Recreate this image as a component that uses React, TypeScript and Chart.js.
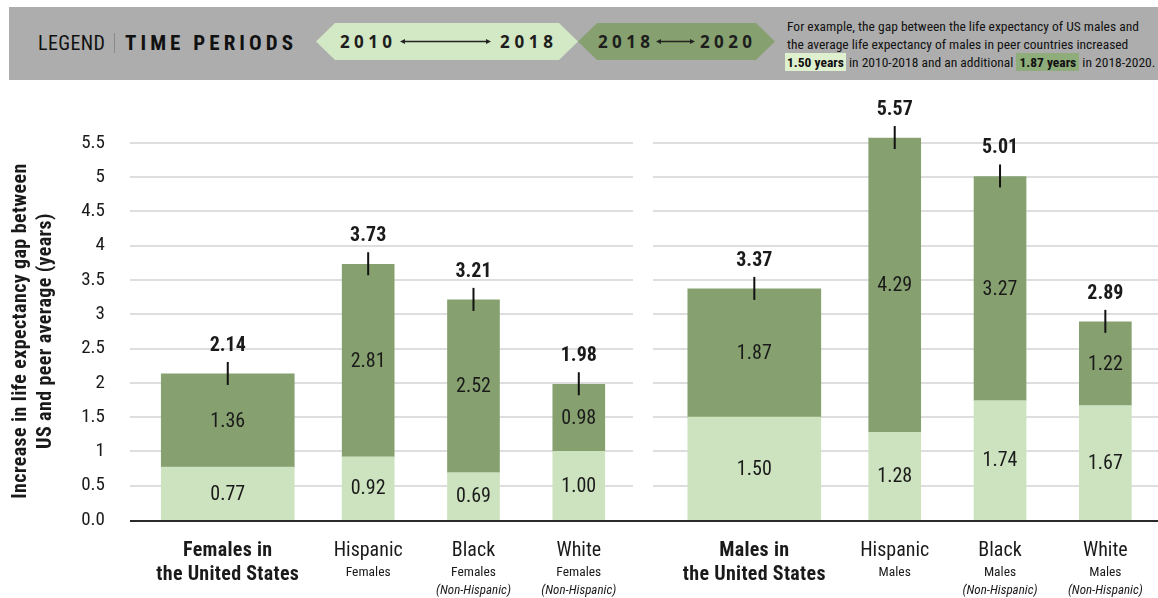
import React, { useEffect, useRef } from "react";
import { Chart, registerables } from "chart.js";

Chart.register(...registerables);

const NARROW = "'Liberation Sans Narrow', 'Arial Narrow', 'Roboto Condensed', Roboto, sans-serif";
const GEO = "'Open Sans', 'DejaVu Sans', sans-serif";

// ---------- data ----------
const CATEGORIES = [
  "Females in the United States",
  "Hispanic Females",
  "Black Females (Non-Hispanic)",
  "White Females (Non-Hispanic)",
  "Males in the United States",
  "Hispanic Males",
  "Black Males (Non-Hispanic)",
  "White Males (Non-Hispanic)",
];
const PERIOD_2010_2018 = [0.77, 0.92, 0.69, 1.0, 1.5, 1.28, 1.74, 1.67];
const PERIOD_2018_2020 = [1.36, 2.81, 2.52, 0.98, 1.87, 4.29, 3.27, 1.22];
const TOTALS = [2.14, 3.73, 3.21, 1.98, 3.37, 5.57, 5.01, 2.89];
const IS_TOTAL_GROUP = [true, false, false, false, true, false, false, false];

const LABEL_MAIN = ["Females in", "Hispanic", "Black", "White", "Males in", "Hispanic", "Black", "White"];
const LABEL_SUB = ["the United States", "Females", "Females", "Females", "the United States", "Males", "Males", "Males"];
const LABEL_NOTE = ["", "", "(Non-Hispanic)", "(Non-Hispanic)", "", "", "(Non-Hispanic)", "(Non-Hispanic)"];

const Y_TITLE = ["Increase in life expectancy gap between", "US and peer average (years)"];
const Y_TICK_STEP = 0.5;
const Y_TICK_TOP = 5.5;
const Y_MAX = 6.3;

// ---------- layout of category slots (blank spacer slots between bars) ----------
const LEAD_SLOTS = 2;
const SLOTS_BETWEEN = [4, 3, 3, 5, 4, 3, 3];
const TRAIL_SLOTS = 1;
const GROUP_GAP_SLOT_OFFSET = 11.83; // from first bar slot

const barSlots: number[] = [];
{
  let s = LEAD_SLOTS;
  CATEGORIES.forEach((_, i) => {
    barSlots.push(s);
    if (i < SLOTS_BETWEEN.length) s += SLOTS_BETWEEN[i];
  });
}
const N_SLOTS = barSlots[barSlots.length - 1] + 1 + TRAIL_SLOTS;
const slotLabels: string[] = Array.from({ length: N_SLOTS }, (_, k) => {
  const i = barSlots.indexOf(k);
  return i >= 0 ? CATEGORIES[i] : " ".repeat(k + 1);
});

function slotSeries(values: number[], wide: boolean): (number | null)[] {
  const arr: (number | null)[] = new Array(N_SLOTS).fill(null);
  barSlots.forEach((s, i) => {
    if (IS_TOTAL_GROUP[i] === wide) arr[s] = values[i];
  });
  return arr;
}

const LIGHT = "#cde3bf";
const DARK = "#86a16f";
const TEXT = "#1a1a1a";

function fmt(v: number) {
  return v.toFixed(2);
}

function setSpacing(ctx: any, px: number) {
  if ("letterSpacing" in ctx) ctx.letterSpacing = `${px}px`;
}

const decorPlugin = {
  id: "decor",
  beforeDatasetsDraw(chart: any) {
    const { ctx, chartArea, scales } = chart;
    const y = scales.y;
    const x = scales.x;
    const gapC = x.getPixelForValue(barSlots[0] + GROUP_GAP_SLOT_OFFSET);
    ctx.save();
    ctx.strokeStyle = "#dedede";
    ctx.lineWidth = 2;
    y.ticks.forEach((t: any) => {
      if (t.value <= 0) return;
      const py = Math.round(y.getPixelForValue(t.value));
      ctx.beginPath();
      ctx.moveTo(chartArea.left - 10, py);
      ctx.lineTo(gapC - 10, py);
      ctx.moveTo(gapC + 10, py);
      ctx.lineTo(chartArea.right, py);
      ctx.stroke();
    });
    ctx.restore();
  },
  afterDatasetsDraw(chart: any) {
    const { ctx, chartArea, scales } = chart;
    const y = scales.y;
    ctx.save();
    // baseline
    const by = Math.round(y.getPixelForValue(0)) + 1;
    ctx.strokeStyle = "#2b2b2b";
    ctx.lineWidth = 2;
    ctx.beginPath();
    ctx.moveTo(chartArea.left - 10, by);
    ctx.lineTo(chartArea.right, by);
    ctx.stroke();

    CATEGORIES.forEach((_, i) => {
      const s = barSlots[i];
      const wide = IS_TOTAL_GROUP[i];
      const lightMeta = chart.getDatasetMeta(wide ? 0 : 1);
      const darkMeta = chart.getDatasetMeta(wide ? 2 : 3);
      const le = lightMeta.data[s].getProps(["x", "y", "base"], true);
      const de = darkMeta.data[s].getProps(["x", "y", "base"], true);
      const cx = le.x;
      ctx.fillStyle = TEXT;
      ctx.textAlign = "center";
      ctx.textBaseline = "middle";
      setSpacing(ctx, 0);
      ctx.font = `20px ${NARROW}`;
      ctx.fillText(fmt(PERIOD_2010_2018[i]), cx, (le.y + le.base) / 2 + 1);
      ctx.fillText(fmt(PERIOD_2018_2020[i]), cx, (de.y + de.base) / 2 + 1);
      // total marker + label
      const top = de.y;
      ctx.strokeStyle = "#111";
      ctx.lineWidth = 2;
      ctx.beginPath();
      ctx.moveTo(cx, top - 12);
      ctx.lineTo(cx, top + 11);
      ctx.stroke();
      ctx.font = `bold 20px ${NARROW}`;
      ctx.fillText(fmt(TOTALS[i]), cx, top - 28);

      // x labels
      if (wide) {
        ctx.font = `bold 20px ${NARROW}`;
        setSpacing(ctx, 0.3);
        ctx.fillText(LABEL_MAIN[i], cx, 551);
        ctx.fillText(LABEL_SUB[i], cx, 575);
        setSpacing(ctx, 0);
      } else {
        ctx.font = `20px ${NARROW}`;
        ctx.fillText(LABEL_MAIN[i], cx, 551);
        ctx.font = `13.5px ${NARROW}`;
        ctx.fillText(LABEL_SUB[i], cx, 573);
        if (LABEL_NOTE[i]) {
          ctx.font = `italic 13px ${NARROW}`;
          ctx.fillText(LABEL_NOTE[i], cx, 591);
        }
      }
    });

    // y-axis title
    ctx.fillStyle = TEXT;
    ctx.font = `bold 20px ${NARROW}`;
    setSpacing(ctx, 0.4);
    ctx.textAlign = "center";
    ctx.textBaseline = "middle";
    ctx.translate(21, 331);
    ctx.rotate(-Math.PI / 2);
    ctx.fillText(Y_TITLE[0], 0, 0);
    ctx.fillText(Y_TITLE[1], 0, 25);
    ctx.restore();
  },
};

function ChartCanvas() {
  const ref = useRef<HTMLCanvasElement | null>(null);
  useEffect(() => {
    if (!ref.current) return;
    const chart = new Chart(ref.current, {
      type: "bar",
      data: {
        labels: slotLabels,
        datasets: [
          { label: "2010–2018", data: slotSeries(PERIOD_2010_2018, true), backgroundColor: LIGHT, barThickness: 133 },
          { label: "2010–2018", data: slotSeries(PERIOD_2010_2018, false), backgroundColor: LIGHT, barThickness: 52 },
          { label: "2018–2020", data: slotSeries(PERIOD_2018_2020, true), backgroundColor: DARK, barThickness: 133 },
          { label: "2018–2020", data: slotSeries(PERIOD_2018_2020, false), backgroundColor: DARK, barThickness: 52 },
        ],
      },
      options: {
        animation: false,
        responsive: false,
        maintainAspectRatio: false,
        layout: { padding: { top: 88, bottom: 78, left: 0, right: 0 } },
        plugins: { legend: { display: false }, tooltip: { enabled: false } },
        scales: {
          x: { type: "category", stacked: true, display: false },
          y: {
            stacked: true,
            min: 0,
            max: Y_MAX,
            grid: { display: false, drawTicks: false },
            border: { display: false },
            ticks: {
              stepSize: Y_TICK_STEP,
              color: TEXT,
              font: { family: NARROW, size: 19 },
              padding: 35,
              callback: (v: any) => (Number(v) === 0 ? "0.0" : String(v)),
            },
            afterBuildTicks: (s: any) => {
              s.ticks = s.ticks.filter((t: any) => t.value <= Y_TICK_TOP + 1e-9);
            },
            afterFit: (s: any) => {
              s.width = 140;
            },
          },
        },
      },
      plugins: [decorPlugin],
    });
    return () => chart.destroy();
  }, []);
  return <canvas ref={ref} width={1158} height={598} style={{ position: "absolute", left: 0, top: 0, display: "block" }} />;
}

function Arrow({ x1, x2, y }: { x1: number; x2: number; y: number }) {
  return (
    <g stroke="#222" fill="#222">
      <line x1={x1 + 3} y1={y} x2={x2 - 3} y2={y} strokeWidth={1.3} />
      <polygon points={`${x1},${y} ${x1 + 5},${y - 2.5} ${x1 + 5},${y + 2.5}`} stroke="none" />
      <polygon points={`${x2},${y} ${x2 - 5},${y - 2.5} ${x2 - 5},${y + 2.5}`} stroke="none" />
    </g>
  );
}

function hex(l: number, r: number, t: number, b: number, tip: number) {
  const m = (t + b) / 2;
  return `${l},${m} ${l + tip},${t} ${r - tip},${t} ${r},${m} ${r - tip},${b} ${l + tip},${b}`;
}

function LegendBand() {
  return (
    <div style={{ position: "absolute", left: 9, top: 7, width: 1149, height: 73, background: "#adadad" }}>
      <svg width={800} height={73} style={{ position: "absolute", left: -9, top: -7, overflow: "visible" }}>
        <g transform="translate(0,7)">
          <text x={38} y={42.5} fontFamily={NARROW} fontSize={20} fill="#111" textLength={67} lengthAdjust="spacing">LEGEND</text>
          <line x1={114.5} y1={26} x2={114.5} y2={46} stroke="#8a8a8a" strokeWidth={1} />
          <text x={125} y={42.5} fontFamily={NARROW} fontSize={21} fontWeight={700} fill="#111" textLength={168} lengthAdjust="spacing">TIME PERIODS</text>
        </g>
        <polygon points={hex(316, 578, 23, 60, 19)} fill="#d3e8c4" />
        <polygon points={hex(578, 775, 23, 60, 19)} fill="#86a16f" />
        <text x={340} y={47.5} fontFamily={GEO} fontSize={17} fontWeight={700} fill="#1d1d1d" textLength={52} lengthAdjust="spacing">2010</text>
        <Arrow x1={400} x2={491} y={41.5} />
        <text x={500} y={47.5} fontFamily={GEO} fontSize={17} fontWeight={700} fill="#1d1d1d" textLength={53} lengthAdjust="spacing">2018</text>
        <text x={598} y={47.5} fontFamily={GEO} fontSize={17} fontWeight={700} fill="#1d1d1d" textLength={52} lengthAdjust="spacing">2018</text>
        <Arrow x1={656} x2={695} y={41.5} />
        <text x={700} y={47.5} fontFamily={GEO} fontSize={17} fontWeight={700} fill="#1d1d1d" textLength={52} lengthAdjust="spacing">2020</text>
      </svg>
      <div
        style={{
          position: "absolute",
          left: 787 - 9,
          top: 10,
          fontFamily: NARROW,
          fontSize: 13.5,
          lineHeight: "18px",
          color: "#111",
          whiteSpace: "nowrap",
        }}
      >
        For example, the gap between the life expectancy of US males and
        <br />
        the average life expectancy of males in peer countries increased
        <br />
        <span style={{ background: "#dff0cf", fontWeight: 700, padding: "1px 2px", marginLeft: -2 }}>1.50 years</span> in 2010-2018 and an
        additional <span style={{ background: "#8fad7a", fontWeight: 700, padding: "1px 3px" }}>1.87 years</span> in 2018-2020.
      </div>
    </div>
  );
}

export default function App() {
  return (
    <div style={{ position: "fixed", left: 0, top: 0, width: 1158, height: 598, background: "#fff", overflow: "hidden" }}>
      <ChartCanvas />
      <LegendBand />
    </div>
  );
}
